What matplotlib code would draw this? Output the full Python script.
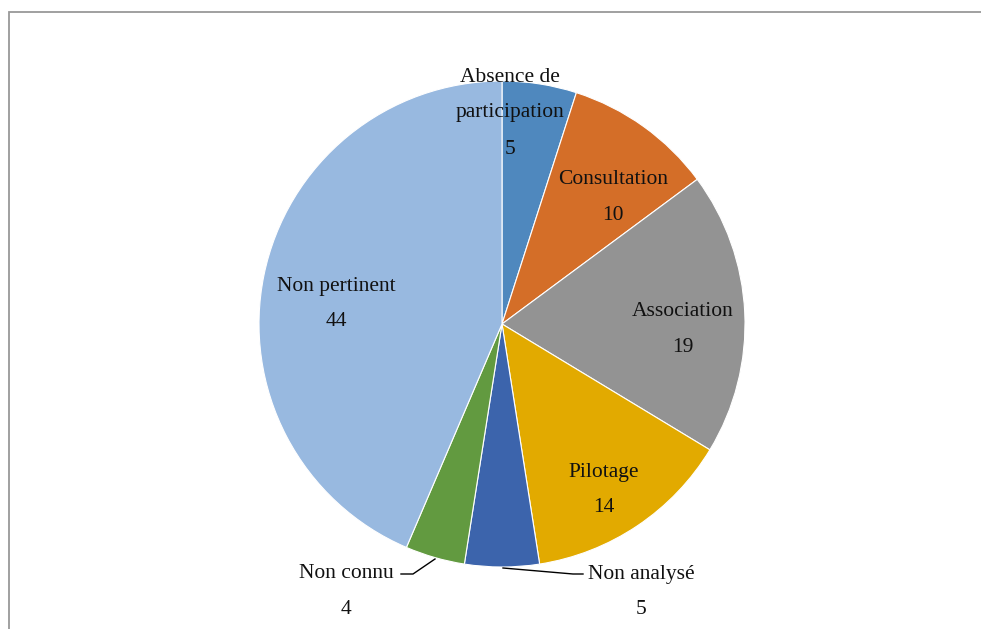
import matplotlib.pyplot as plt
from matplotlib.patches import Rectangle

# data
categories = ["Absence de\nparticipation", "Consultation", "Association", "Pilotage",
              "Non analysé", "Non connu", "Non pertinent"]
values = [5, 10, 19, 14, 5, 4, 44]
colors = ["#4f88be", "#d46e28", "#939393", "#e2aa00", "#3c64ac", "#629a40", "#98b9e0"]

W, H = 981, 629
fig = plt.figure(figsize=(W / 100, H / 100), dpi=100)
ax = fig.add_axes([0, 0, 1, 1])

# chart frame (only top and left edges visible)
fig.patches.append(Rectangle((9 / W, -0.1), 1.2, 1 - 12 / H + 0.1, transform=fig.transFigure,
                             fill=False, edgecolor="#999999", linewidth=1.3))

# pie: y axis is inverted, so counterclock=True draws clockwise on screen
cx, cy, R = 502, 324, 243
ax.pie(values, colors=colors, startangle=-90, counterclock=True, center=(cx, cy), radius=R,
       wedgeprops=dict(edgecolor="white", linewidth=0.8), frame=True)
ax.set_xlim(0, W)
ax.set_ylim(H, 0)
ax.set_aspect("equal")
ax.axis("off")

font = dict(family="Liberation Serif", fontsize=15.5, color="#111111")

# label positions (centre of the name line), value sits one line below
label_pos = [(510, 77), (613, 180), (683, 311), (604, 472), (641, 574), (346, 573), (336, 286)]
for name, v, (x, y) in zip(categories, values, label_pos):
    lines = name.split("\n")
    for i, ln in enumerate(lines):
        ax.text(x, y + 36 * i, ln, ha="center", va="center", **font)
    ax.text(x, y + 36 * len(lines), str(v), ha="center", va="center", **font)

# leader lines for the two small outside labels
ax.plot([435, 413, 401], [559, 574, 574], color="black", lw=1)
ax.plot([503, 573, 583], [568, 574, 574], color="black", lw=1)

fig.savefig("out.png", dpi=100)
